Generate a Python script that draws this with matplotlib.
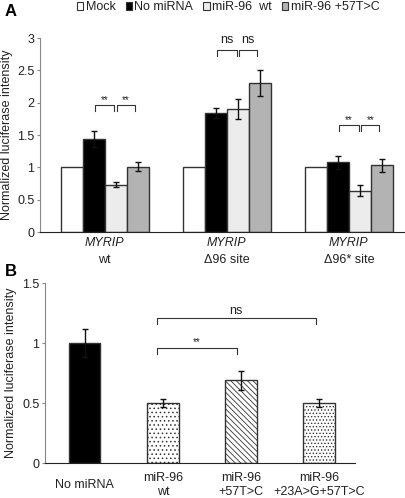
import matplotlib
matplotlib.use('Agg')
import matplotlib.pyplot as plt
import matplotlib.transforms as mtransforms
from matplotlib.patches import Patch
import numpy as np

plt.rcParams['font.family'] = ['Liberation Sans', 'DejaVu Sans']
plt.rcParams['hatch.linewidth'] = 0.6
plt.rcParams['hatch.color'] = '#333333'

# ---- panel A data
groups_a = ['wt', 'Δ96 site', 'Δ96* site']
series_a = ['Mock', 'No miRNA', 'miR-96  wt', 'miR-96 +57T>C']
colors_a = ['white', 'black', '#ececec', '#b3b3b3']
mock = [1.0, 1.0, 1.0]
no_mirna = [1.44, 1.84, 1.08]
mir96_wt = [0.73, 1.90, 0.64]
mir96_57 = [1.01, 2.30, 1.03]
err_no_mirna = [0.12, 0.08, 0.10]
err_wt = [0.04, 0.15, 0.08]
err_57 = [0.07, 0.20, 0.10]
# (group, bracket height, label)
sig_a = [(0, 1.96, '**'), (1, 2.81, 'ns'), (2, 1.65, '**')]

# ---- panel B data
labels_b = ['No miRNA', 'miR-96\nwt', 'miR-96\n+57T>C', 'miR-96\n+23A>G+57T>C']
values_b = [1.0, 0.50, 0.69, 0.50]
errors_b = [0.12, 0.035, 0.08, 0.03]
hatches_b = ['', '....', '\\\\\\\\\\\\', '.....']
facecolors_b = ['black', 'white', 'white', 'white']

fig = plt.figure(figsize=(4.06, 4.98), dpi=100)

edge = '#333333'
tick_col = '#222222'
fs = 9

# ================= Panel A
axA = fig.add_axes([40 / 406, 1 - 232 / 498, 365 / 406, 194 / 498])
w = 0.18
x = np.arange(len(groups_a))
vals = [mock, no_mirna, mir96_wt, mir96_57]
errs = [None, err_no_mirna, err_wt, err_57]
for i, (v, e) in enumerate(zip(vals, errs)):
    pos = x + (i - 1.5) * w
    axA.bar(pos, v, width=w, color=colors_a[i], edgecolor=edge, linewidth=1,
            label=series_a[i], zorder=2)
    if e is not None:
        axA.errorbar(pos, v, yerr=e, fmt='none', ecolor='#111111',
                     elinewidth=1, capsize=2.5, capthick=1, zorder=3)

axA.set_ylim(0, 3)
axA.set_xlim(-0.53, 2.46)
axA.set_yticks(np.arange(0, 3.01, 0.5))
axA.set_yticklabels(['0', '0.5', '1', '1.5', '2', '2.5', '3'])
axA.set_xticks([])
for s in ['top', 'right']:
    axA.spines[s].set_visible(False)
axA.spines['left'].set_color('#888888')
axA.spines['bottom'].set_color('#222222')
axA.tick_params(axis='y', length=2, color='#888888', labelsize=fs,
                labelcolor=tick_col, pad=2)
axA.set_ylabel('Normalized luciferase intensity', fontsize=fs,
               color=tick_col, labelpad=3)

trA = mtransforms.blended_transform_factory(axA.transData, axA.transAxes)
for g, name in zip(x, groups_a):
    axA.text(g, -0.055, 'MYRIP', transform=trA, ha='center', va='center',
             fontsize=fs, style='italic', color=tick_col)
    axA.text(g, -0.145, name, transform=trA, ha='center', va='center',
             fontsize=fs, color=tick_col)

for g, h, lab in sig_a:
    c1 = g - 0.5 * w
    c2 = g + 0.5 * w
    c3 = g + 1.5 * w
    for a, b in [(c1 + 0.01, c2 - 0.01), (c2 + 0.01, c3 - 0.02)]:
        axA.plot([a, a, b, b], [h - 0.09, h, h, h - 0.09], color='#333333', lw=0.8)
        if lab == 'ns':
            axA.text((a + b) / 2, h + 0.06, lab, ha='center', va='bottom',
                     fontsize=fs, color=tick_col)
        else:
            axA.text((a + b) / 2, h + 0.01, lab, ha='center', va='bottom',
                     fontsize=7, color=tick_col)

handles = [Patch(facecolor=c, edgecolor=edge, linewidth=0.8) for c in colors_a]
fig.legend(handles, series_a, loc='center', bbox_to_anchor=(0.562, 0.985),
           ncol=4, frameon=False, fontsize=fs, handlelength=0.5,
           handleheight=0.5, handletextpad=0.2, columnspacing=0.8,
           labelcolor=tick_col, borderpad=0, borderaxespad=0)

fig.text(5 / 406, 1 - 12 / 498, 'A', fontsize=12, fontweight='bold', va='center')
fig.text(5 / 406, 1 - 272 / 498, 'B', fontsize=12, fontweight='bold', va='center')

# ================= Panel B
axB = fig.add_axes([45 / 406, 1 - 463 / 498, 310 / 406, 180 / 498])
xb = np.arange(len(labels_b))
axB.bar(xb, values_b, width=0.4, color=facecolors_b, edgecolor=edge,
        linewidth=1, zorder=2)
for p, h in zip(axB.patches, hatches_b):
    p.set_hatch(h)
axB.errorbar(xb, values_b, yerr=errors_b, fmt='none', ecolor='#111111',
             elinewidth=1, capsize=2.5, capthick=1, zorder=3)
axB.set_ylim(0, 1.5)
axB.set_xlim(-0.51, 3.46)
axB.set_yticks([0, 0.5, 1, 1.5])
axB.set_yticklabels(['0', '0.5', '1', '1.5'])
axB.set_xticks(xb)
axB.set_xticklabels(labels_b)
for lab in axB.get_xticklabels():
    lab.set_va('center')
axB.tick_params(axis='x', length=0, pad=16, labelsize=fs, labelcolor=tick_col)
for s in ['top', 'right']:
    axB.spines[s].set_visible(False)
axB.spines['left'].set_color('#888888')
axB.spines['bottom'].set_color('#222222')
axB.tick_params(axis='y', length=2, color='#888888', labelsize=fs,
                labelcolor=tick_col, pad=2)
axB.set_ylabel('Normalized luciferase intensity', fontsize=fs,
               color=tick_col, labelpad=4)

# significance brackets
for a, b, h, lab, f, dy in [(xb[1] - 0.08, xb[2] - 0.05, 0.96, '**', 7, 0.01),
                            (xb[1] - 0.08, xb[3] - 0.04, 1.21, 'ns', fs, 0.01)]:
    axB.plot([a, a, b, b], [h - 0.05, h, h, h - 0.05], color='#333333', lw=0.8)
    axB.text((a + b) / 2, h + dy, lab, ha='center', va='bottom',
             fontsize=f, color=tick_col)

fig.savefig('out.png', dpi=100)
